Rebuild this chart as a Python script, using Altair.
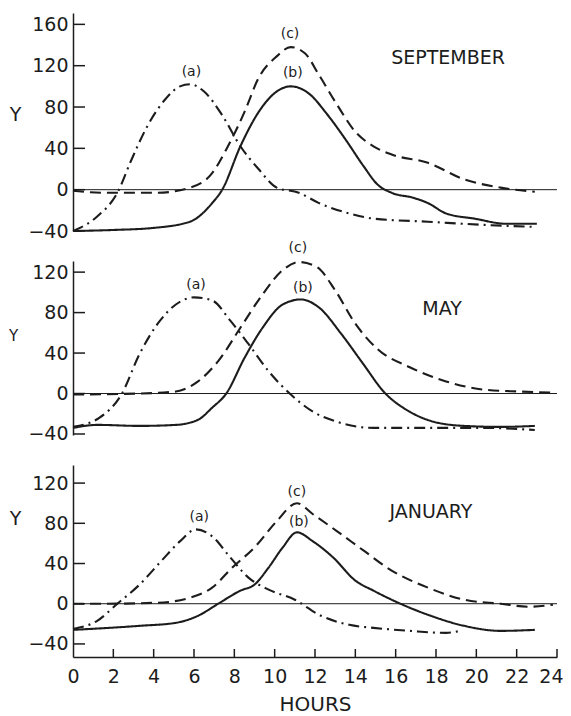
import altair as alt
import pandas as pd

INK = "#1c1c1c"
FONT = "DejaVu Sans"

# ---------------- data ----------------
sep_a_h = [0, 1.2, 2.2, 2.9, 3.7, 4.6, 5.3, 5.8, 6.5, 7.4, 8.3, 9.2, 10.1, 11.2, 12.2, 13.7, 14.9, 17.6, 20.3, 22.9]
sep_a_v = [-40, -26, -3, 29, 62, 88, 100, 102, 95, 72, 42, 20, 2, -3, -13, -23, -28, -31, -34, -36]
sep_b_h = [0, 2, 4, 5.8, 6.9, 7.4, 8.3, 9.2, 10.1, 10.8, 11.7, 12.6, 13.5, 14.4, 15.1, 15.8, 16.9, 17.6, 18.5, 19.9, 21.5, 23]
sep_b_v = [-40, -39, -37, -31, -13, 0, 42, 75, 95, 100, 93, 73, 49, 23, 5, -3, -8, -13, -23, -28, -33, -33]
sep_c_h = [0, 1.5, 4.2, 5.8, 6.9, 7.6, 8.5, 9.2, 10.1, 10.8, 11.5, 12.2, 13.1, 14, 14.9, 15.8, 17.6, 19.4, 21.2, 22.9]
sep_c_v = [-1, -3, -3, 2, 16, 39, 75, 108, 129, 138, 132, 111, 82, 56, 42, 34, 26, 10, 2, -2]

may_a_h = [0, 1.3, 2.4, 3.3, 4.2, 5.1, 6, 6.9, 7.8, 8.7, 9.7, 10.8, 11.9, 13.1, 14.9, 17.6, 20.3, 22.9]
may_a_v = [-33, -24, -1, 39, 69, 88, 95, 92, 72, 49, 22, -1, -18, -28, -34, -34, -34, -36]
may_b_h = [0, 1.2, 3.3, 5.1, 6.2, 6.9, 7.6, 8.5, 9.4, 10.4, 11.3, 12.2, 13.3, 14.4, 15.4, 16.7, 17.9, 19.4, 21.2, 22.9]
may_b_v = [-34, -31, -32, -31, -26, -14, 0, 35, 65, 88, 93, 85, 59, 29, 2, -18, -28, -32, -33, -32]
may_c_h = [0, 3.3, 5.1, 6.2, 7.2, 8.3, 9.4, 10.4, 11.2, 12.1, 13, 14, 15.1, 16.7, 18.5, 20.3, 22.1, 23.8]
may_c_v = [-1, 0, 2, 12, 32, 65, 98, 122, 130, 125, 102, 69, 44, 26, 12, 4, 2, 1]

jan_a_h = [0, 1.2, 2.2, 3.3, 4.4, 5.3, 6.1, 6.9, 7.8, 8.7, 9.7, 11, 12.2, 13.7, 14.9, 16.7, 18.5, 19.2]
jan_a_v = [-25, -17, 0, 19, 43, 62, 74, 67, 46, 26, 14, 4, -11, -21, -24, -27, -29, -27]
jan_b_h = [0, 3.3, 5.1, 6.2, 7.2, 8.3, 9, 9.7, 10.4, 11.1, 11.9, 12.9, 14, 14.9, 15.8, 17.6, 19.4, 21.2, 22.9]
jan_b_v = [-26, -22, -19, -12, 0, 13, 19, 36, 56, 71, 62, 46, 23, 13, 4, -11, -22, -27, -26]
jan_c_h = [0, 1.5, 4.2, 5.8, 6.9, 7.9, 9, 10.1, 11.1, 11.9, 13.1, 14.4, 15.8, 17.6, 19.4, 21.2, 22.6, 23.8]
jan_c_v = [0, 0, 1, 6, 16, 36, 56, 82, 100, 89, 72, 53, 33, 16, 4, 0, -3, -1]

x_ticks = list(range(0, 25, 2))
sep_y_ticks = [-40, 0, 40, 80, 120, 160]
may_y_ticks = [-40, 0, 40, 80, 120]
jan_y_ticks = [-40, 0, 40, 80, 120]

curve_names = ["(a)", "(b)", "(c)"]
sep_lab_h = [5.87, 10.9, 10.76]
sep_lab_v = [114, 113, 151]
may_lab_h = [6.1, 11.4, 11.15]
may_lab_v = [107, 104, 144]
jan_lab_h = [6.26, 11.2, 11.1]
jan_lab_v = [86, 81, 111]

months = ["SEPTEMBER", "MAY", "JANUARY"]
month_h = [18.6, 18.3, 17.75]
month_v = [127, 84, 91]

DASH = {"a": [11, 5, 2, 5], "b": [1, 0], "c": [11, 6]}
W = 484


def panel(curves, yticks, ydom, height, lab_h, lab_v, month, mh, mv,
          ytitle_x, ytitle_y, ytitle_size, bottom=False):
    xscale = alt.Scale(domain=[0, 24], nice=False)
    yscale = alt.Scale(domain=ydom, nice=False, zero=False)
    if bottom:
        xaxis = alt.Axis(values=x_ticks, title="HOURS", ticks=False, grid=False,
                         labelFlush=True, labelFlushOffset=6, labelPadding=10,
                         labelFont=FONT, labelFontSize=19, labelColor=INK,
                         domainColor=INK, domainWidth=1.5, titleFont=FONT,
                         titleFontSize=20, titleFontWeight="normal", titleColor=INK,
                         titlePadding=8)
    else:
        xaxis = None
    yaxis = alt.Axis(values=yticks, title="Y", titleAngle=0, titleX=ytitle_x,
                     titleY=ytitle_y, titleAlign="center", titleBaseline="middle",
                     titleFont=FONT, titleFontSize=ytitle_size, titleFontWeight="normal",
                     titleColor=INK, ticks=False, grid=False, labelPadding=5,
                     labelFont=FONT, labelFontSize=19, labelColor=INK,
                     domainColor=INK, domainWidth=1.5)

    layers = []
    zero_df = pd.DataFrame({"h0": [0], "h1": [24], "v": [0]})
    layers.append(
        alt.Chart(zero_df).mark_rule(color=INK, strokeWidth=1).encode(
            x=alt.X("h0:Q", scale=xscale, axis=xaxis),
            x2="h1:Q",
            y=alt.Y("v:Q", scale=yscale, axis=yaxis),
        )
    )
    for key, (hs, vs) in curves.items():
        df = pd.DataFrame({"hour": hs, "value": vs})
        layers.append(
            alt.Chart(df).mark_line(color=INK, strokeWidth=2.1, strokeDash=DASH[key],
                                    interpolate="monotone").encode(
                x=alt.X("hour:Q", scale=xscale),
                y=alt.Y("value:Q", scale=yscale),
            )
        )
    # inward y ticks
    yt_df = pd.DataFrame({"v": yticks})
    layers.append(
        alt.Chart(yt_df).mark_rule(color=INK, strokeWidth=1.5).encode(
            y=alt.Y("v:Q", scale=yscale), x=alt.value(0), x2=alt.value(12)
        )
    )
    if bottom:
        xt_df = pd.DataFrame({"h": x_ticks[1:]})
        layers.append(
            alt.Chart(xt_df).mark_rule(color=INK, strokeWidth=1.5).encode(
                x=alt.X("h:Q", scale=xscale), y=alt.value(height), y2=alt.value(height - 8)
            )
        )
    lab_df = pd.DataFrame({"t": curve_names, "h": lab_h, "v": lab_v})
    layers.append(
        alt.Chart(lab_df).mark_text(font=FONT, fontSize=14, color=INK).encode(
            x=alt.X("h:Q", scale=xscale), y=alt.Y("v:Q", scale=yscale), text="t:N"
        )
    )
    m_df = pd.DataFrame({"t": [month], "h": [mh], "v": [mv]})
    layers.append(
        alt.Chart(m_df).mark_text(font=FONT, fontSize=19, color=INK).encode(
            x=alt.X("h:Q", scale=xscale), y=alt.Y("v:Q", scale=yscale), text="t:N"
        )
    )
    return alt.layer(*layers).properties(width=W, height=height)


sep = panel({"a": (sep_a_h, sep_a_v), "b": (sep_b_h, sep_b_v), "c": (sep_c_h, sep_c_v)},
            sep_y_ticks, [-40, 171], 218, sep_lab_h, sep_lab_v,
            months[0], month_h[0], month_v[0], -58, 101, 19)
may = panel({"a": (may_a_h, may_a_v), "b": (may_b_h, may_b_v), "c": (may_c_h, may_c_v)},
            may_y_ticks, [-41, 131], 174, may_lab_h, may_lab_v,
            months[1], month_h[1], month_v[1], -60, 74, 15)
jan = panel({"a": (jan_a_h, jan_a_v), "b": (jan_b_h, jan_b_v), "c": (jan_c_h, jan_c_v)},
            jan_y_ticks, [-53, 138], 192, jan_lab_h, jan_lab_v,
            months[2], month_h[2], month_v[2], -58, 53, 19, bottom=True)

chart = alt.vconcat(sep, may, jan, spacing=30, bounds="flush").resolve_scale(
    x="independent", y="independent"
).properties(
    padding={"left": 0, "top": 5, "right": 0, "bottom": 0},
    background="white",
).configure_view(stroke=None)

chart.save("out.html", embed_options={"renderer": "svg", "actions": False})
